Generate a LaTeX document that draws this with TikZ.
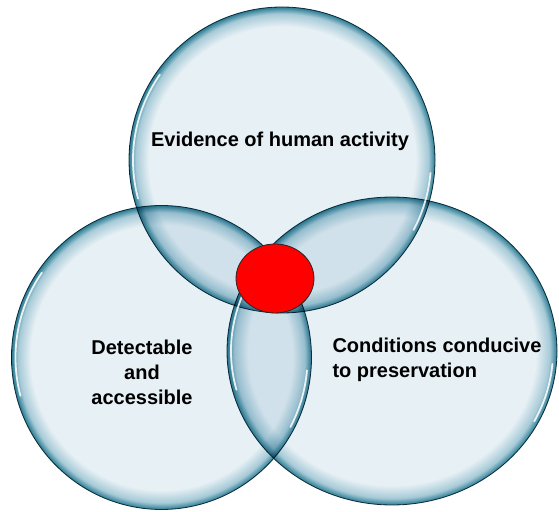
\documentclass[tikz,border=0pt]{standalone}
\usepackage{fontspec}
\setmainfont{Liberation Sans}
\usepackage{xcolor}
\usepackage{tikz}
\usetikzlibrary{shapes.geometric}
\usetikzlibrary{positioning}

\definecolor{bubblein}{HTML}{E7F0F5}
\definecolor{bubblemid}{HTML}{A6CAD7}
\definecolor{bubbleout}{HTML}{2A7B92}
\definecolor{rimline}{HTML}{163F4D}

% glassy disc: flat middle, teal rim
\pgfdeclareradialshading{bubble}{\pgfpointorigin}{%
  color(0bp)=(bubblein); color(21.8bp)=(bubblein);
  color(23.9bp)=(bubblemid); color(25bp)=(bubbleout);
  color(50bp)=(bubbleout)}

\begin{document}
\begin{tikzpicture} [x = 1pt, y = 1pt,
    disc/.style = {ellipse, draw = rimline, line width = 0.8pt, shading = bubble, inner sep = 0pt, blend mode = multiply},
    gloss/.style = {white, line width = 1.8pt, line cap = round, opacity = 0.85},
    txt/.style = {font = \bfseries\fontsize{20}{25}\selectfont, align = center}]
			\useasboundingbox (0,0) rectangle (559,511);
			\node[disc, minimum width = 306, minimum height = 306] (ev) at (282,351) {};
			\node[disc, minimum width = 300, minimum height = 304] (det) at (161.5,153.5) {};
			\node[disc, minimum width = 330, minimum height = 308] (cond) at (392,160) {};
			\foreach \n/\rx/\ry in {ev/149/149, det/146/148, cond/161/150} {
					\draw[gloss, shift = {(\n.center)}] (145:{\rx} and {\ry}) arc[start angle = 145, end angle = 195, x radius = \rx, y radius = \ry];
					\draw[gloss, shift = {(\n.center)}] (-28:{\rx} and {\ry}) arc[start angle = -28, end angle = -5, x radius = \rx, y radius = \ry];
				}
			\node[ellipse, draw = black!85, line width = 0.8pt, fill = red, minimum width = 78, minimum height = 69] (core) at (275,232.5) {};
			\node[txt] (evtext) at (280,370) {Evidence of human activity};
			\node[txt] (dettext) at (142,139) {Detectable\\and\\accessible};
			\node[txt, align = left, anchor = west] (condtext) at (329,151.5) {Conditions conducive\\to preservation};
		\end{tikzpicture}
\end{document}
